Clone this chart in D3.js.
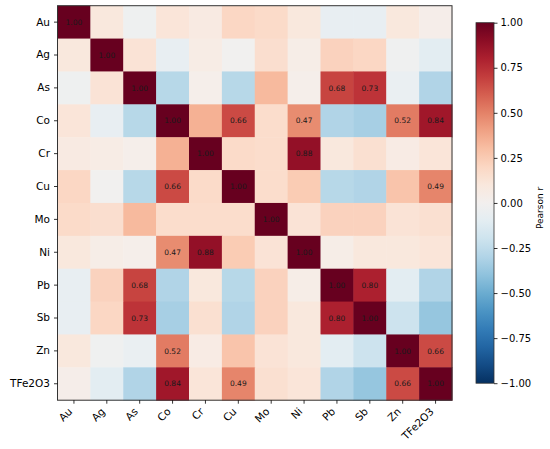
<!DOCTYPE html>
<html>
<head>
<meta charset="utf-8">
<script src="https://cdn.jsdelivr.net/npm/d3@7"></script>
<style>
    body { margin: 0; background: #fff; }
    text { font-family: "DejaVu Sans", sans-serif; }
</style>
</head>
<body>
<script>
// Element names, same order on both axes
let elements = ['Au', 'Ag', 'As', 'Co', 'Cr', 'Cu', 'Mo', 'Ni', 'Pb', 'Sb', 'Zn', 'TFe2O3'];

// Pearson r, one row per element
let rAu  = [1.00, 0.10, -0.03, 0.12, 0.08, 0.20, 0.18, 0.10, -0.07, -0.07, 0.10, 0.04];
let rAg  = [0.10, 1.00, 0.13, -0.07, 0.06, -0.01, 0.16, 0.05, 0.22, 0.20, -0.02, -0.10];
let rAs  = [-0.03, 0.13, 1.00, -0.28, 0.03, -0.28, 0.32, 0.03, 0.68, 0.73, -0.06, -0.30];
let rCo  = [0.12, -0.07, -0.28, 1.00, 0.35, 0.66, 0.17, 0.47, -0.30, -0.33, 0.52, 0.84];
let rCr  = [0.08, 0.06, 0.03, 0.35, 1.00, 0.18, 0.17, 0.88, 0.10, 0.15, 0.07, 0.12];
let rCu  = [0.20, -0.01, -0.28, 0.66, 0.18, 1.00, 0.17, 0.25, -0.28, -0.30, 0.28, 0.49];
let rMo  = [0.18, 0.16, 0.32, 0.17, 0.17, 0.17, 1.00, 0.13, 0.22, 0.22, 0.13, 0.15];
let rNi  = [0.10, 0.05, 0.03, 0.47, 0.88, 0.25, 0.13, 1.00, 0.05, 0.10, 0.10, 0.12];
let rPb  = [-0.07, 0.22, 0.68, -0.30, 0.10, -0.28, 0.22, 0.05, 1.00, 0.80, -0.10, -0.30];
let rSb  = [-0.07, 0.20, 0.73, -0.33, 0.15, -0.30, 0.22, 0.10, 0.80, 1.00, -0.20, -0.38];
let rZn  = [0.10, -0.02, -0.06, 0.52, 0.07, 0.28, 0.13, 0.10, -0.10, -0.20, 1.00, 0.66];
let rTFe = [0.04, -0.10, -0.30, 0.84, 0.12, 0.49, 0.15, 0.12, -0.30, -0.38, 0.66, 1.00];
let matrix = [rAu, rAg, rAs, rCo, rCr, rCu, rMo, rNi, rPb, rSb, rZn, rTFe];

let cbarTicks = [1, 0.75, 0.5, 0.25, 0, -0.25, -0.5, -0.75, -1];
// only strong correlations get a number in the cell
let labelThreshold = 0.45;

let width = 550, height = 449;
let plot = {left: 57.5, top: 5.7, size: 394.5};
let cbar = {left: 476, top: 22.7, width: 18, height: 360.5};

let svg = d3.select('body').append('svg')
    .attr('width', width)
    .attr('height', height);

let color = d3.scaleSequential(t => d3.interpolateRdBu(1 - t)).domain([-1, 1]);

let x = d3.scaleBand().domain(elements).range([plot.left, plot.left + plot.size]);
let y = d3.scaleBand().domain(elements).range([plot.top, plot.top + plot.size]);

// flatten into cells
let cells = [];
matrix.forEach((row, i) => row.forEach((v, j) => cells.push({row: elements[i], col: elements[j], v: v})));

svg.selectAll('.cell')
    .data(cells)
    .join('rect')
        .attr('class', 'cell')
        .attr('x', d => x(d.col))
        .attr('y', d => y(d.row))
        .attr('width', x.bandwidth() + 0.5)
        .attr('height', y.bandwidth() + 0.5)
        .style('fill', d => color(d.v));

svg.selectAll('.ann')
    .data(cells.filter(d => Math.abs(d.v) >= labelThreshold))
    .join('text')
        .attr('class', 'ann')
        .attr('x', d => x(d.col) + x.bandwidth() / 2)
        .attr('y', d => y(d.row) + y.bandwidth() / 2)
        .attr('text-anchor', 'middle')
        .attr('dy', '0.35em')
        .style('font-size', '7.5px')
        .style('fill', '#1a1a1a')
        .text(d => d.v.toFixed(2));

// frame
svg.append('rect')
    .attr('x', plot.left).attr('y', plot.top)
    .attr('width', plot.size).attr('height', plot.size)
    .style('fill', 'none').style('stroke', '#333').style('stroke-width', 1);

// axes
let yAxis = svg.append('g')
    .attr('transform', `translate(${plot.left},0)`)
    .call(d3.axisLeft(y).tickSize(3.5).tickPadding(4));
let xAxis = svg.append('g')
    .attr('transform', `translate(0,${plot.top + plot.size})`)
    .call(d3.axisBottom(x).tickSize(3.5).tickPadding(3));

[xAxis, yAxis].forEach(g => {
    g.select('.domain').remove();
    g.selectAll('text').style('font-size', '10.5px').style('fill', '#000')
        .style('font-family', '"DejaVu Sans", sans-serif');
    g.selectAll('line').style('stroke', '#000').style('stroke-width', 0.8);
});

// matplotlib style: rotated 45, right edge of the label at the tick
xAxis.selectAll('text')
    .attr('text-anchor', 'end')
    .attr('y', 0)
    .attr('dy', 0)
    .attr('transform', 'translate(-1,12) rotate(-45)');

// colorbar
let defs = svg.append('defs');
let grad = defs.append('linearGradient')
    .attr('id', 'cbar-grad')
    .attr('x1', 0).attr('y1', 1).attr('x2', 0).attr('y2', 0);
d3.range(0, 1.0001, 0.05).forEach(t => {
    grad.append('stop')
        .attr('offset', t)
        .attr('stop-color', color(-1 + 2 * t));
});

svg.append('rect')
    .attr('x', cbar.left).attr('y', cbar.top)
    .attr('width', cbar.width).attr('height', cbar.height)
    .style('fill', 'url(#cbar-grad)')
    .style('stroke', '#333').style('stroke-width', 0.8);

let cy = d3.scaleLinear().domain([-1, 1]).range([cbar.top + cbar.height, cbar.top]);
let cAxis = svg.append('g')
    .attr('transform', `translate(${cbar.left + cbar.width},0)`)
    .call(d3.axisRight(cy).tickValues(cbarTicks).tickSize(3.5).tickPadding(3)
        .tickFormat(d => d3.format('.2f')(d).replace('-', '\u2212')));
cAxis.select('.domain').remove();
cAxis.selectAll('text').style('font-size', '10px').style('fill', '#000')
    .style('font-family', '"DejaVu Sans", sans-serif');
cAxis.selectAll('line').style('stroke', '#000').style('stroke-width', 0.8);

svg.append('text')
    .attr('transform', `translate(543,${cbar.top + cbar.height / 2 + 5}) rotate(-90)`)
    .attr('text-anchor', 'middle')
    .style('font-size', '9px')
    .text('Pearson r');
</script>
</body>
</html>
